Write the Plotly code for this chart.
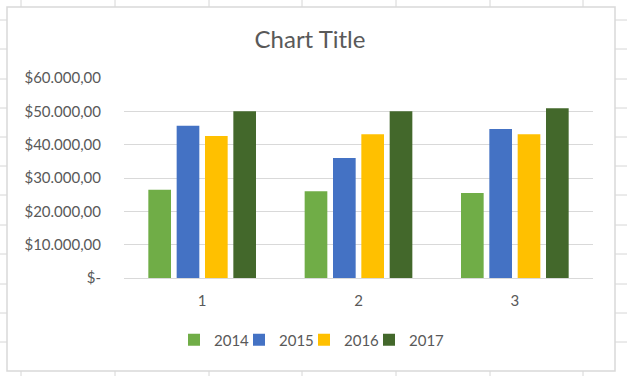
import plotly.graph_objects as go

categories = ["1", "2", "3"]
years = ["2014", "2015", "2016", "2017"]
values_2014 = [26500, 26000, 25500]
values_2015 = [45700, 36000, 44700]
values_2016 = [42600, 43100, 43100]
values_2017 = [50000, 50000, 50900]
colors = ["#70AD47", "#4472C4", "#FFC000", "#43682B"]
tick_vals = [0, 10000, 20000, 30000, 40000, 50000, 60000]
tick_text = ["$-", "$10.000,00", "$20.000,00", "$30.000,00", "$40.000,00", "$50.000,00", "$60.000,00"]

W, H = 627, 376
L, R, T, B = 124, 593, 78, 278

def px(x):
    return (x - L) / (R - L)

def py(y):
    return (B - y) / (B - T)

fig = go.Figure()
for name, vals, col in zip(years, [values_2014, values_2015, values_2016, values_2017], colors):
    fig.add_trace(go.Bar(x=categories, y=vals, name=name, marker=dict(color=col, line=dict(width=0))))
# empty legend spacer so the last legend label is not clipped when entrywidth is compact
fig.add_trace(go.Scatter(x=[None], y=[None], name="\u2002", mode="markers",
                         marker=dict(color="rgba(0,0,0,0)", size=1, line=dict(width=0)),
                         hoverinfo="skip", showlegend=True))

shapes = []
grid_col = "#d6d6d6"
# spreadsheet background grid
for yy in [20, 49, 79, 108, 137, 166, 195, 225, 254, 284, 313, 342]:
    shapes.append(dict(type="line", xref="paper", yref="paper", x0=px(0), x1=px(W), y0=py(yy), y1=py(yy),
                       line=dict(color=grid_col, width=1), layer="below"))
for xx in [21, 115, 209, 302, 396, 490, 583]:
    shapes.append(dict(type="line", xref="paper", yref="paper", x0=px(xx), x1=px(xx), y0=py(0), y1=py(H),
                       line=dict(color=grid_col, width=1), layer="below"))
# chart area
shapes.append(dict(type="rect", xref="paper", yref="paper", x0=px(7), x1=px(615), y0=py(7), y1=py(371),
                   fillcolor="white", line=dict(color="#d9d9d9", width=1.5), layer="below"))

fig.update_layout(
    width=W, height=H, autosize=False,
    margin=dict(l=L, r=W - R, t=T, b=H - B, pad=0),
    paper_bgcolor="white", plot_bgcolor="rgba(0,0,0,0)",
    font=dict(family="Lato, 'Open Sans', sans-serif", color="#595959", size=14),
    title=dict(text="Chart Title", x=310 / W, xanchor="center", y=1 - 40 / H, yanchor="middle",
               xref="container", yref="container", font=dict(size=24, color="#595959")),
    barmode="group", bargap=0.275, bargroupgap=0.2,
    showlegend=True,
    legend=dict(orientation="h", xref="container", yref="container", x=174 / W, xanchor="left",
                y=1 - 340 / H, yanchor="middle", font=dict(size=15, color="#595959"),
                bgcolor="rgba(0,0,0,0)", traceorder="normal", entrywidth=20, entrywidthmode="pixels"),
    shapes=shapes,
    xaxis=dict(type="category", showgrid=False, zeroline=False, showline=False, ticks="",
               tickfont=dict(size=15, color="#595959"), ticklabelstandoff=12, fixedrange=True),
    yaxis=dict(range=[0, 60000], tickvals=tick_vals, ticktext=tick_text, showgrid=True,
               gridcolor="#d9d9d9", gridwidth=1, zeroline=True, zerolinecolor="#d9d9d9", zerolinewidth=1,
               showline=False, ticks="", tickfont=dict(size=15, color="#595959"), ticklabelstandoff=22,
               fixedrange=True),
)

fig.write_html("out.html", config={"displayModeBar": False},
               post_script="document.body.style.margin='0';")
